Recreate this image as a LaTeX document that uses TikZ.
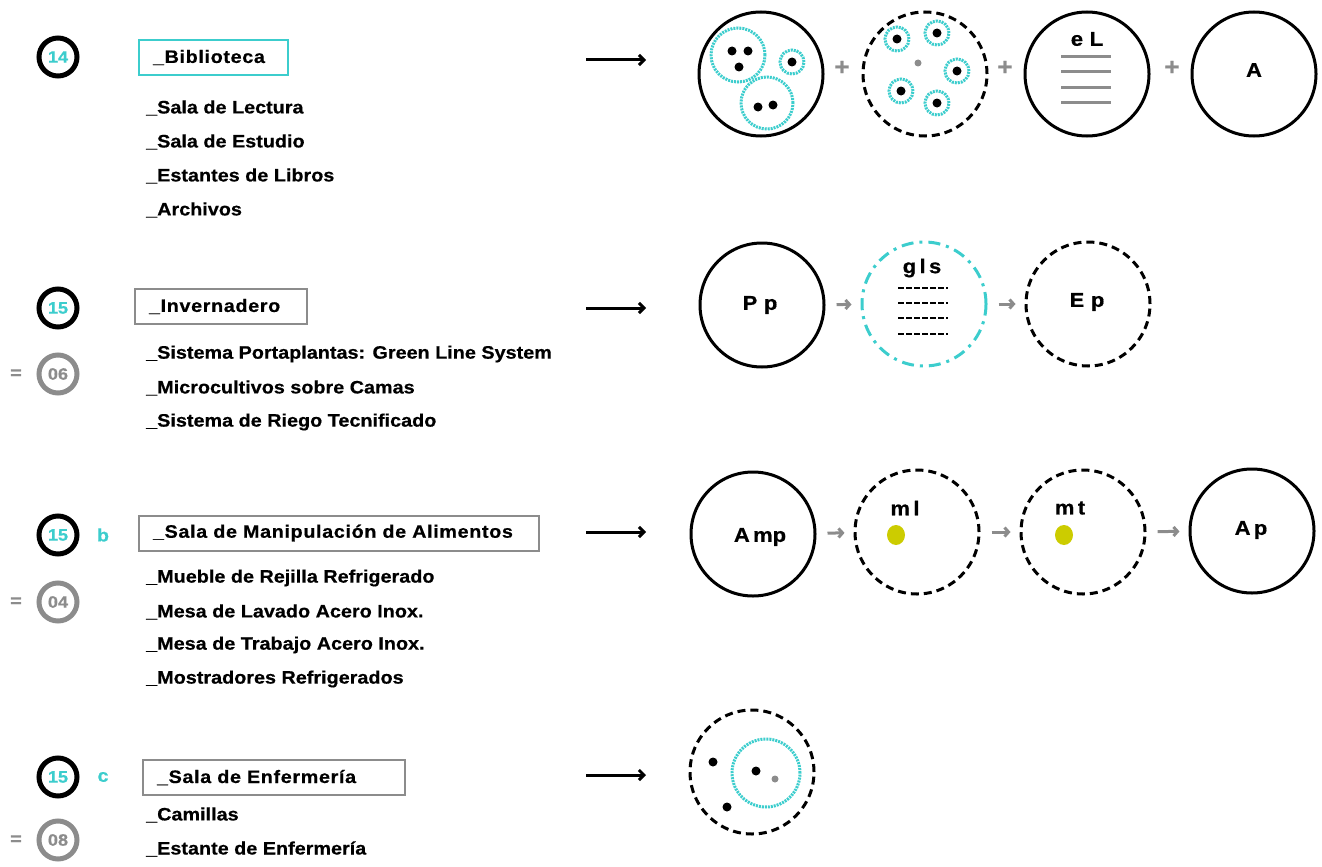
\documentclass[tikz,border=0pt]{standalone}
\usepackage{fontspec}
\setmainfont{Liberation Sans}[FakeStretch=1.1, FakeBold=0.6]
\definecolor{rcyan}{RGB}{60,205,205}
\definecolor{rgray}{RGB}{140,140,140}
\definecolor{ryellow}{RGB}{204,204,0}
\usetikzlibrary{arrows.meta,positioning}

\begin{document}
\begin{tikzpicture}[x=1pt,y=-1pt,font=\fontsize{18}{20}\selectfont\bfseries]
    \tikzset{
      badge/.style={circle, draw, line width=5pt, minimum size=38pt, inner sep=0pt,
        text=rcyan, font=\fontsize{16.5}{16.5}\selectfont\bfseries},
      badgeg/.style={badge, draw=rgray, text=rgray},
      titlebox/.style={draw=rgray, line width=2pt, anchor=west, minimum height=35pt,
        inner xsep=14pt, align=left,
        font=\fontsize{18}{20}\selectfont\bfseries\addfontfeature{LetterSpace=3.5}},
      item/.style={anchor=west, inner sep=0pt},
      ring/.style={circle, draw, line width=3pt, minimum size=124pt, inner sep=0pt},
      dring/.style={ring, dash pattern=on 8pt off 5pt},
      cring/.style={draw=rcyan, line width=3pt, dash pattern=on 2pt off 1pt},
      dot/.style={circle, fill=black, inner sep=0pt, minimum size=9pt},
      bigarrow/.style={line width=3pt, -{Straight Barb[length=5pt,width=10pt]}},
      smallarrow/.style={draw=rgray, line width=3pt, shorten <=11pt, shorten >=9pt,
        -{Straight Barb[length=4pt,width=9pt]}},
      plus/.style={text=rgray, font=\fontsize{24}{24}\selectfont\bfseries},
      cl/.style={font=\fontsize{20}{20}\selectfont\bfseries}
    }
    \useasboundingbox (0,0) rectangle (1322,867);

    % Row 1: Biblioteca
    \node[badge] (n14) at (58,57) {14};
    \node[titlebox, draw=rcyan, text width=121pt] (t1) at (138,57.5) {\_Biblioteca};
    \node[item] (i11) at (146,108) {\_Sala de Lectura};
    \node[item] (i12) at (146,142) {\_Sala de Estudio};
    \node[item] (i13) at (146,176) {\_Estantes de Libros};
    \node[item] (i14) at (146,210) {\_Archivos};
    \coordinate (a1) at (586,60);
    \coordinate (b1) at (646,60);
    \draw[bigarrow] (a1) -- (b1);

    \node[ring] (bib1) at (761,74) {};
    \node[dring] (bib2) at (925,74) {};
    \node[ring] (bib3) at (1087,74) {};
    \node[ring] (bib4) at (1254,74) {};
    \node[plus] (p1) at (842,68) {+};
    \node[plus] (p2) at (1005,68) {+};
    \node[plus] (p3) at (1172,68) {+};

    \draw[cring] (738,55) circle[radius=27pt];
    \draw[cring] (792,62) circle[radius=12pt];
    \draw[cring] (767,103) circle[radius=26pt];
    \foreach \p in {(732,51),(748,51),(739,67),(792,62),(758,107),(773,105)}
      \node[dot] at \p {};
    \foreach \p in {(897,39),(937,33),(957,71),(901,91),(937,103)} {
      \draw[cring] \p circle[radius=12pt];
      \node[dot] at \p {};
    }
    \node[dot, fill=rgray, minimum size=7pt] at (918,63) {};
    \node[cl] (eL) at (1087,39) {e\,\,L};
    \foreach \y in {57,72,87,102}
      \draw[rgray, line width=3pt] (1061,\y) -- (1111,\y);
    \node[cl] (lA) at (1254,70) {A};

    % Row 2: Invernadero
    \node[badge] (n15a) at (58,308) {15};
    \node[badgeg] (n06) at (58,374) {06};
    \node[text=rgray] (eq1) at (16,374) {=};
    \node[titlebox, text width=144pt] (t2) at (134,306.5) {\_Invernadero};
    \node[item] (i21) at (146,354) {\_Sistema Portaplantas: Green Line System};
    \node[item] (i22) at (146,388) {\_Microcultivos sobre Camas};
    \node[item] (i23) at (146,422) {\_Sistema de Riego Tecnificado};
    \coordinate (a2) at (586,308);
    \coordinate (b2) at (646,308);
    \draw[bigarrow] (a2) -- (b2);

    \node[ring] (pp) at (762,305) {};
    \node[ring, draw=rcyan, dash pattern=on 12pt off 6pt on 3pt off 6pt] (gls) at (924,304) {};
    \node[dring] (ep) at (1088,304) {};
    \node[cl] at (760,305) {P\,\,p};
    \node[cl] at (922,268) {g\,l\,s};
    \foreach \y in {288,303,318,334}
      \draw[line width=2.5pt, dash pattern=on 6pt off 2pt] (898,\y) -- (948,\y);
    \node[cl] at (1087,302) {E\,\,p};
    \draw[smallarrow] (pp) -- (gls);
    \draw[smallarrow] (gls) -- (ep);

    % Row 3: Sala de Manipulacion
    \node[badge] (n15b) at (58,535) {15};
    \node[text=rcyan] (lb) at (103,535) {b};
    \node[badgeg] (n04) at (58,602) {04};
    \node[text=rgray] (eq2) at (16,602) {=};
    \node[titlebox, text width=372pt] (t3) at (138,533) {\_Sala de Manipulación de Alimentos};
    \node[item] (i31) at (146,578) {\_Mueble de Rejilla Refrigerado};
    \node[item] (i32) at (146,612) {\_Mesa de Lavado Acero Inox.};
    \node[item] (i33) at (146,645) {\_Mesa de Trabajo Acero Inox.};
    \node[item] (i34) at (146,679) {\_Mostradores Refrigerados};
    \coordinate (a3) at (586,532);
    \coordinate (b3) at (646,532);
    \draw[bigarrow] (a3) -- (b3);

    \node[ring] (amp) at (753,534) {};
    \node[dring] (ml) at (917,532) {};
    \node[dring] (mt) at (1083,532) {};
    \node[ring] (ap) at (1252,531) {};
    \node[cl] at (760,537) {A\,mp};
    \node[cl] at (905,508) {m\,l};
    \node[cl] at (1070,508) {m\,t};
    \node[cl] at (1251,530) {A\,p};
    \fill[ryellow] (896,535) ellipse[x radius=9pt, y radius=10pt];
    \fill[ryellow] (1064,535) ellipse[x radius=9pt, y radius=10pt];
    \draw[smallarrow] (amp) -- (ml);
    \draw[smallarrow] (ml) -- (mt);
    \draw[smallarrow] (mt) -- (ap);

    % Row 4: Sala de Enfermeria
    \node[badge] (n15c) at (58,777) {15};
    \node[text=rcyan] (lc) at (103,777) {c};
    \node[badgeg] (n08) at (58,840) {08};
    \node[text=rgray] (eq3) at (16,840) {=};
    \node[titlebox, text width=234pt] (t4) at (142,777.5) {\_Sala de Enfermería};
    \node[item] (i41) at (146,815) {\_Camillas};
    \node[item] (i42) at (146,849) {\_Estante de Enfermería};
    \coordinate (a4) at (586,775);
    \coordinate (b4) at (646,775);
    \draw[bigarrow] (a4) -- (b4);

    \node[dring] (enf) at (752,772) {};
    \draw[cring] (766,773) circle[radius=34pt];
    \foreach \p in {(713,762),(756,771),(727,807)}
      \node[dot] at \p {};
    \node[dot, fill=rgray, minimum size=7pt] at (775,779) {};
  \end{tikzpicture}
\end{document}
